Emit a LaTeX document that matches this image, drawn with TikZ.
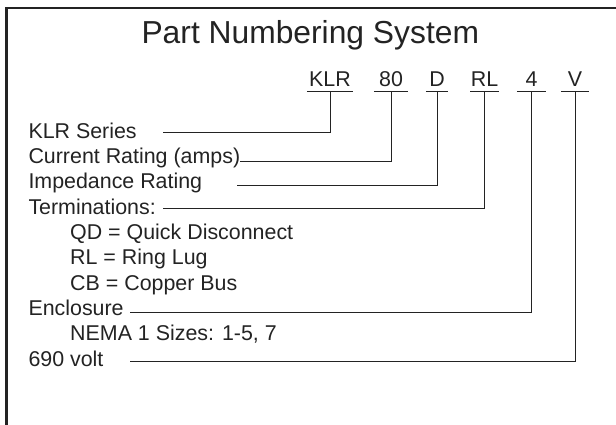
\documentclass[tikz,border=0pt]{standalone}
\usepackage{fontspec}
\setmainfont{Liberation Sans}
\usetikzlibrary{positioning}
\definecolor{inkgray}{RGB}{35,35,35}

\begin{document}
\begin{tikzpicture}[
    x=1pt, y=-1pt,
    title/.style={
        font=\fontsize{31.8}{36}\selectfont,
        text=inkgray,
        inner sep=0pt,
        anchor=base
    },
    code/.style={
        font=\fontsize{21.4}{25}\selectfont,
        text=inkgray,
        inner sep=0pt,
        text depth=5pt,
        minimum width=#1,
        anchor=south
    },
    entry/.style={
        font=\fontsize{21.4}{25}\selectfont,
        text=inkgray,
        inner sep=0pt,
        anchor=base west
    },
    lead/.style={draw=inkgray, line width=1pt},
    frame/.style={draw=inkgray, line width=2.5pt}
]
    \useasboundingbox (0,0) rectangle (616,425);

    % Open frame (top and left edges)
    \draw[frame] (6.5,425) -- (6.5,8) -- (616,8);

    % Title
    \node[title] (head) at (310.3,43.5) {Part Numbering System};

    % Part code, each field underlined
    \node[code=46pt] (klr) at (330,91.7) {KLR};
    \node[code=34pt] (amps) at (391,91.7) {80};
    \node[code=22pt] (imp) at (437,91.7) {D};
    \node[code=28pt] (term) at (484.5,91.7) {RL};
    \node[code=29pt] (encl) at (531.5,91.7) {4};
    \node[code=28pt] (volt) at (575,91.7) {V};
    \foreach \f in {klr,amps,imp,term,encl,volt}
        \draw[lead] (\f.south west) -- (\f.south east);

    % Legend entries
    \node[entry] (series-txt) at (28.3,138.3) {KLR Series};
    \node[entry] (amps-txt) at (28.3,163.6) {Current Rating (amps)};
    \node[entry] (imp-txt) at (28.3,188.9) {Impedance Rating};
    \node[entry] (term-txt) at (28.3,214.2) {Terminations:};
    \node[entry] (qd-txt) at (70,239.5) {QD = Quick Disconnect};
    \node[entry] (rl-txt) at (70,264.8) {RL = Ring Lug};
    \node[entry] (cb-txt) at (70,290.1) {CB = Copper Bus};
    \node[entry] (encl-txt) at (28.3,315.4) {Enclosure};
    \node[entry] (nema-txt) at (70,340.7) {NEMA 1 Sizes: 1-5, 7};
    \node[entry] (volt-txt) at (28.3,366) {690 volt};

    % Free ends of the leader lines
    \coordinate (series-end) at (163,132.7);
    \coordinate (amps-end) at (240,161.7);
    \coordinate (imp-end) at (236.7,185.7);
    \coordinate (term-end) at (163.3,208.3);
    \coordinate (encl-end) at (130,312.7);
    \coordinate (volt-end) at (130,361.7);

    % Leader lines from each field to its entry
    \draw[lead] (klr.south) |- (series-end);
    \draw[lead] (amps.south) |- (amps-end);
    \draw[lead] (imp.south) |- (imp-end);
    \draw[lead] (term.south) |- (term-end);
    \draw[lead] (encl.south) |- (encl-end);
    \draw[lead] (volt.south) |- (volt-end);
\end{tikzpicture}
\end{document}
